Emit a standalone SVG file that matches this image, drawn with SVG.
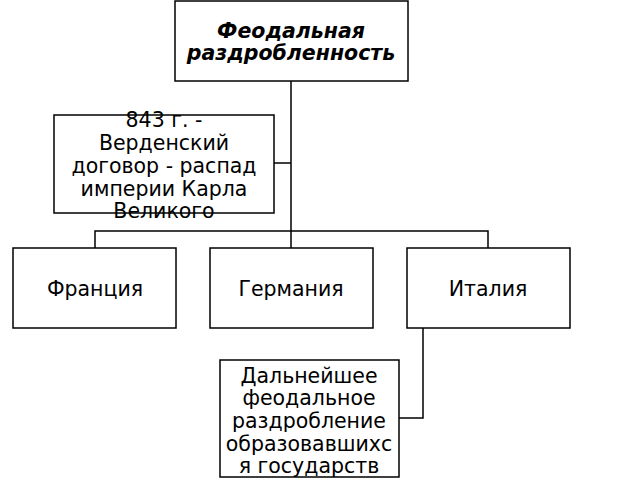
<svg xmlns="http://www.w3.org/2000/svg" width="640" height="480" viewBox="0 0 640 480">
<style>
.box{fill:#fff;stroke:#000;stroke-width:1.5}
.t{font-family:"DejaVu Sans",sans-serif;font-size:20.5px;text-anchor:middle;fill:#000}
.b{font-weight:bold;font-style:italic;font-size:20.5px}
.c{fill:none;stroke:#000;stroke-width:1.5}
</style>
<rect width="640" height="480" fill="#fff"/>
<g id="connectors">
<path class="c" d="M291,81V231M274,163H291M95,248V231H488V248M291,231V248M423,328V418H399"/>
</g>
<g id="n1"><rect class="box" x="175" y="1" width="233" height="80"/>
<text class="t b" x="291" y="38">Феодальная</text><text class="t b" x="291" y="60">раздробленность</text></g>
<g id="n2"><rect class="box" x="54" y="115" width="220" height="98"/>
<text class="t" x="164" y="127">843 г. -</text><text class="t" x="164" y="150">Верденский</text><text class="t" x="164" y="173">договор - распад</text><text class="t" x="164" y="196">империи Карла</text><text class="t" x="164" y="218">Великого</text></g>
<g id="n3"><rect class="box" x="13" y="248" width="163" height="80"/><text class="t" x="95" y="296">Франция</text></g>
<g id="n4"><rect class="box" x="210" y="248" width="163" height="80"/><text class="t" x="291" y="296">Германия</text></g>
<g id="n5"><rect class="box" x="407" y="248" width="163" height="80"/><text class="t" x="488" y="296">Италия</text></g>
<g id="n6"><rect class="box" x="220" y="360" width="179" height="117"/>
<text class="t" x="309" y="383">Дальнейшее</text><text class="t" x="309" y="405">феодальное</text><text class="t" x="309" y="428">раздробление</text><text class="t" x="309" y="451">образовавшихс</text><text class="t" x="309" y="473">я государств</text></g>
</svg>
